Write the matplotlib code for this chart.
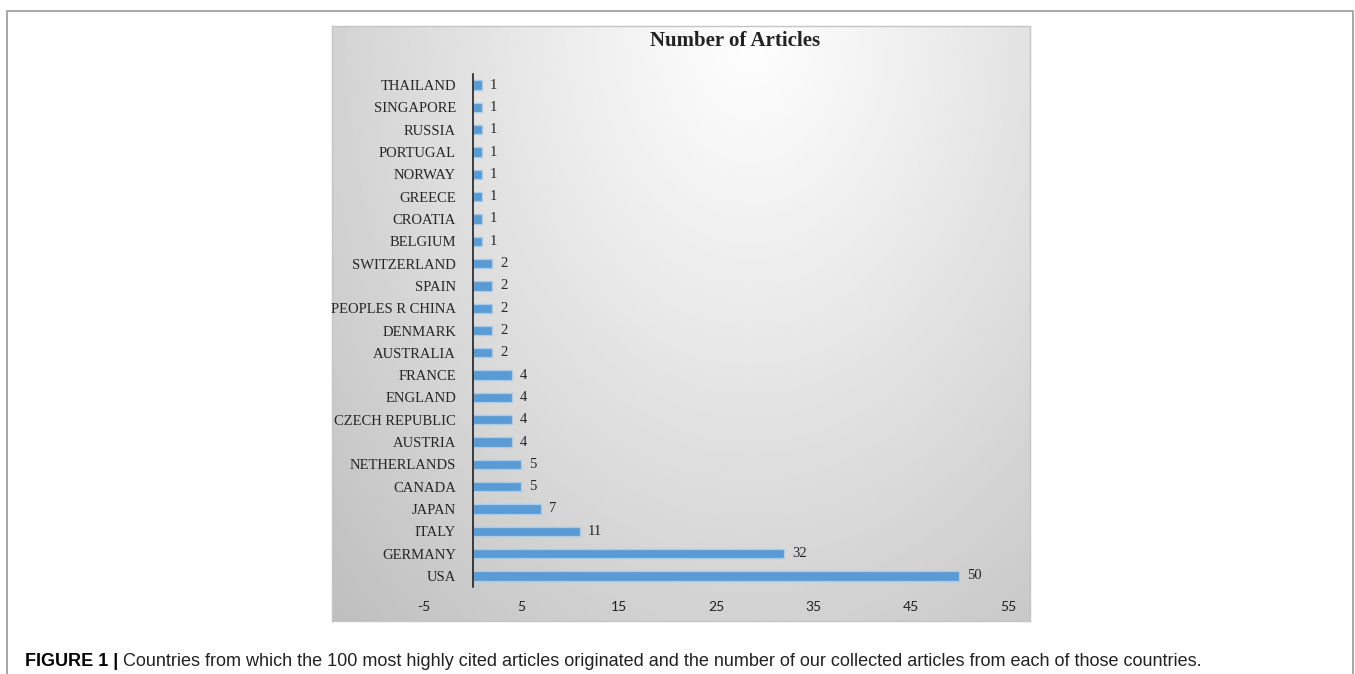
import numpy as np
import matplotlib
matplotlib.use("Agg")
import matplotlib.pyplot as plt
from matplotlib.patches import Rectangle

# data, bottom to top
countries = ["USA", "GERMANY", "ITALY", "JAPAN", "CANADA", "NETHERLANDS",
             "AUSTRIA", "CZECH REPUBLIC", "ENGLAND", "FRANCE", "AUSTRALIA",
             "DENMARK", "PEOPLES R CHINA", "SPAIN", "SWITZERLAND", "BELGIUM",
             "CROATIA", "GREECE", "NORWAY", "PORTUGAL", "RUSSIA", "SINGAPORE",
             "THAILAND"]
articles = [50, 32, 11, 7, 5, 5, 4, 4, 4, 4, 2, 2, 2, 2, 2, 1, 1, 1, 1, 1, 1, 1, 1]
xticks = [-5, 5, 15, 25, 35, 45, 55]

W, H = 1355, 674
fig = plt.figure(figsize=(W / 100, H / 100), dpi=100)
fig.patch.set_facecolor("white")

# outer frame of the figure box
fig.add_artist(Rectangle((7 / W, -0.02), 1346 / W, 1.02 - 11 / H,
                         transform=fig.transFigure, fill=False,
                         edgecolor="#a0a0a0", linewidth=1.3))

# gradient panel behind the chart
px0, py0, pw, ph = 332, 26, 698, 595
bg = fig.add_axes([px0 / W, 1 - (py0 + ph) / H, pw / W, ph / H])
gx, gy = np.meshgrid(np.linspace(0, 1, 300), np.linspace(0, 1, 300))
r = np.sqrt(((gx - 0.6) / 0.7) ** 2 + ((gy - 0.0) / 1.15) ** 2)
shade = 0.995 - 0.2 * np.clip(r, 0, 1.3) ** 1.1
bg.imshow(shade, cmap="gray", vmin=0, vmax=1, aspect="auto",
          extent=[0, 1, 1, 0], interpolation="bilinear")
bg.set_xticks([])
bg.set_yticks([])
for s in bg.spines.values():
    s.set_color("#c4c4c4")
    s.set_linewidth(1.0)

# chart axes
ax = fig.add_axes([424 / W, 1 - 587 / H, 584 / W, 513 / H])
ax.patch.set_alpha(0)
for k in ["top", "right", "bottom"]:
    ax.spines[k].set_visible(False)
ax.spines["left"].set_position(("data", 0))
ax.spines["left"].set_color("#111111")
ax.spines["left"].set_linewidth(1.1)

ypos = np.arange(len(countries))
ax.barh(ypos, articles, height=0.42, color="#5B9BD5",
        edgecolor="#a9cbea", linewidth=0.9)
for y, v in zip(ypos, articles):
    ax.text(v + 0.8, y, str(v), va="center", ha="left",
            fontsize=10.5, family="Liberation Serif", color="#262626")

ax.set_xlim(-5, 55)
ax.set_ylim(-0.5, len(countries) - 0.5)
ax.set_xticks(xticks)
ax.set_xticklabels([str(t) for t in xticks], family="Lato",
                   fontsize=10, color="#222222")
ax.set_yticks(ypos)
ax.set_yticklabels(countries, family="Liberation Serif", fontsize=10.5,
                   color="#262626")
ax.tick_params(axis="both", length=0)
ax.tick_params(axis="x", pad=10)
ax.tick_params(axis="y", pad=12)

fig.text(735 / W, 1 - 41 / H, "Number of Articles", ha="center", va="center",
         family="Liberation Serif", fontweight="bold", fontsize=15,
         color="#222222")

# caption
fig.text(25 / W, 1 - 661 / H, "FIGURE 1 |", ha="left", va="center",
         family="Liberation Sans", fontweight="bold", fontsize=13)
fig.text(123 / W, 1 - 661 / H,
         "Countries from which the 100 most highly cited articles originated "
         "and the number of our collected articles from each of those countries.",
         ha="left", va="center", family="Liberation Sans", fontsize=13,
         color="#222222")

fig.savefig("out.png", dpi=100)
